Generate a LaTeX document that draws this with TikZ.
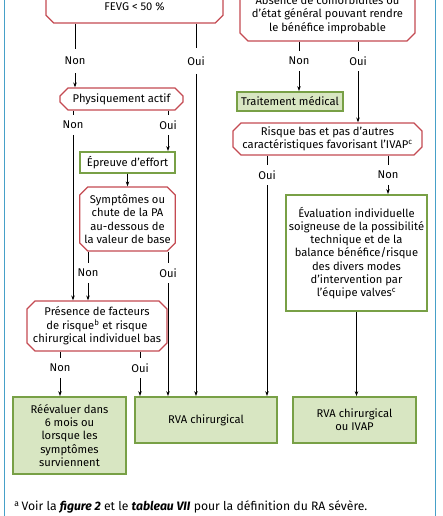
\documentclass[tikz,border=0pt]{standalone}
\usepackage{fontspec}
\setmainfont{Fira Sans}
\usetikzlibrary{arrows.meta,shapes.misc}
\definecolor{redline}{RGB}{196,74,82}
\definecolor{greenline}{RGB}{120,160,70}
\definecolor{greenfill}{RGB}{216,230,194}
\definecolor{frameblue}{RGB}{70,160,200}
\tikzset{
  question/.style={chamfered rectangle, chamfered rectangle xsep=4.5pt,
    draw=redline, line width=1.2pt, fill=white, inner sep=0pt, align=center},
  action/.style={rectangle, draw=greenline, line width=1.8pt,
    fill=greenfill, inner sep=0pt, align=center},
  test/.style={action, fill=white},
  answer/.style={inner xsep=1pt, inner ysep=5.5pt},
  arr/.style={-{Stealth[length=5pt,width=3.5pt]}},
}
\begin{document}
\begin{tikzpicture}[x=1pt,y=-1pt,font=\fontsize{11.2}{13.3}\selectfont,line width=0.7pt]
  \clip (0,0) rectangle (443,516);
  \draw[frameblue,line width=1pt] (4.5,0) -- (4.5,516) (435.5,0) -- (435.5,516);

  \node[question,minimum width=177pt,minimum height=32pt] (fevg) at (134.5,7) {FEVG < 50 \%};
  \node[question,minimum width=175pt,minimum height=53pt] (comorb) at (327.5,14.5)
    {Absence de comorbidités ou\\d'état général pouvant rendre\\le bénéfice improbable};
  \node[question,minimum width=123pt,minimum height=22pt] (phys) at (121.5,99) {Physiquement actif};
  \node[test,minimum width=95pt,minimum height=21pt] (effort) at (127.5,162.5) {Épreuve d'effort};
  \node[question,minimum width=95pt,minimum height=64pt] (sympt) at (127.5,219)
    {Symptômes ou\\chute de la PA\\au-dessous de\\la valeur de base};
  \node[question,minimum width=140pt,minimum height=50pt] (risk) at (97,326)
    {Présence de facteurs\\de risque\textsuperscript{b} et risque\\chirurgical individuel bas};
  \node[action,minimum width=106pt,minimum height=19pt] (medic) at (290,101.5) {Traitement médical};
  \node[question,minimum width=189pt,minimum height=32pt] (low) at (327.5,139)
    {Risque bas et pas d'autres\\caractéristiques favorisant l'IVAP\textsuperscript{c}};
  \node[test,minimum width=141pt,minimum height=116pt] (team) at (356.5,253)
    {Évaluation individuelle\\soigneuse de la possibilité\\technique et de la\\balance bénéfice/risque\\des divers modes\\d'intervention par\\l'équipe valves\textsuperscript{c}};
  \node[action,minimum width=113pt,minimum height=77pt] (reeval) at (69.5,435.5)
    {Réévaluer dans\\6 mois ou\\lorsque les\\symptômes\\surviennent};
  \node[action,minimum width=142pt,minimum height=46pt] (rva) at (206,420) {RVA chirurgical};
  \node[action,minimum width=123pt,minimum height=46pt] (rvaivap) at (354.5,420) {RVA chirurgical\\ou IVAP};

  \node[answer,inner ysep=8pt] (nonA) at (75,61) {Non};
  \node[answer,inner ysep=8pt] (ouiA) at (196,61) {Oui};
  \node[answer] (nonB) at (73,125) {Non};
  \node[answer] (ouiB) at (168,125) {Oui};
  \node[answer] (nonC) at (88,273) {Non};
  \node[answer] (ouiC) at (168,273) {Oui};
  \node[answer] (nonD) at (60,368) {Non};
  \node[answer] (ouiD) at (140,368) {Oui};
  \node[answer] (nonE) at (299,61) {Non};
  \node[answer] (ouiE) at (358,61) {Oui};
  \node[answer] (ouiF) at (267,175) {Oui};
  \node[answer] (nonF) at (388,175) {Non};

  \node[anchor=west,inner sep=0pt,font=\fontsize{12.2}{14}\selectfont] (note) at (14,507)
    {\textsuperscript{a}\,Voir la \textbf{\textit{figure 2}} et le \textbf{\textit{tableau VII}} pour la définition du RA sévère.};

  \draw (nonA |- fevg.south) -- (nonA);
  \draw (ouiA |- fevg.south) -- (ouiA);
  \draw (nonB |- phys.south) -- (nonB);
  \draw (ouiB |- phys.south) -- (ouiB);
  \draw (nonC |- sympt.south) -- (nonC);
  \draw (ouiC |- sympt.south) -- (ouiC);
  \draw (nonD |- risk.south) -- (nonD);
  \draw (ouiD |- risk.south) -- (ouiD);
  \draw (nonE |- comorb.south) -- (nonE);
  \draw (ouiE |- comorb.south) -- (ouiE);
  \draw (ouiF |- low.south) -- (ouiF);
  \draw (nonF |- low.south) -- (nonF);
  \begin{scope}[arr]
    \draw (nonA) -- (nonA |- phys.north);
    \draw (ouiA) -- (ouiA |- rva.north);
    \draw (nonB) -- (nonB |- risk.north);
    \draw (ouiB) -- (ouiB |- effort.north);
    \draw (effort) -- (sympt);
    \draw (nonC) -- (nonC |- risk.north);
    \draw (ouiC) -- (ouiC |- rva.north);
    \draw (nonD) -- (nonD |- reeval.north);
    \draw (ouiD) -- (ouiD |- rva.north);
    \draw (nonE) -- (nonE |- medic.north);
    \draw (ouiE) -- (ouiE |- low.north);
    \draw (ouiF) -- (ouiF |- rva.north);
    \draw (nonF) -- (nonF |- team.north);
    \draw (team) -- (team |- rvaivap.north);
  \end{scope}
\end{tikzpicture}
\end{document}
